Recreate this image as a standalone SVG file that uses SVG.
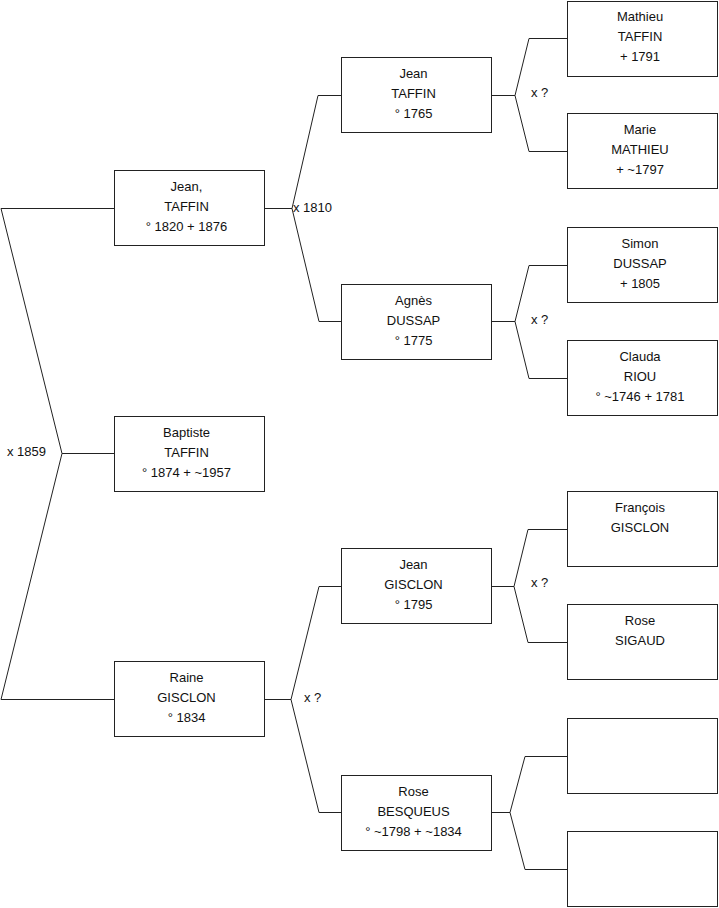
<svg xmlns="http://www.w3.org/2000/svg" width="719" height="908" viewBox="0 0 719 908">
<style>
.box{fill:#fff;stroke:#222;stroke-width:1}
.t{font-family:"Liberation Sans",Arial,sans-serif;font-size:13px;fill:#111;text-anchor:middle}
.l{font-family:"Liberation Sans",Arial,sans-serif;font-size:13px;fill:#111}
.c{fill:none;stroke:#222;stroke-width:1}
</style>
<rect width="719" height="908" fill="#fff"/>
<g id="connectors">
<polyline class="c" points="114,208.5 1,208.5 62,453.5 1,699.5 114,699.5"/>
<line class="c" x1="62" y1="453.5" x2="114" y2="453.5"/>
<text class="l" x="7" y="456">x 1859</text>
<polyline class="c" points="341,95.5 318,95.5 292,208.5 319,321.5 341,321.5"/>
<line class="c" x1="265" y1="208.5" x2="292" y2="208.5"/>
<text class="l" x="293" y="212">x 1810</text>
<polyline class="c" points="341,586.5 319,586.5 291,699.5 319,812.5 341,812.5"/>
<line class="c" x1="265" y1="699.5" x2="291" y2="699.5"/>
<text class="l" x="304" y="702">x ?</text>
<polyline class="c" points="567,38.5 529,38.5 515,95.5 529,151.5 567,151.5"/>
<line class="c" x1="492" y1="95.5" x2="515" y2="95.5"/>
<text class="l" x="531" y="97">x ?</text>
<polyline class="c" points="567,265.5 529,265.5 515,321.5 529,378.5 567,378.5"/>
<line class="c" x1="492" y1="321.5" x2="515" y2="321.5"/>
<text class="l" x="531" y="324">x ?</text>
<polyline class="c" points="567,529.5 528,529.5 514,586.5 528,642.5 567,642.5"/>
<line class="c" x1="492" y1="586.5" x2="514" y2="586.5"/>
<text class="l" x="531" y="587">x ?</text>
<polyline class="c" points="567,756.5 525,756.5 510,812.5 525,869.5 567,869.5"/>
<line class="c" x1="492" y1="812.5" x2="510" y2="812.5"/>
</g>
<g id="n_jean_taffin_1820">
<rect class="box" x="114.5" y="170.5" width="150" height="75"/>
<text class="t" x="186.5" y="191">Jean,</text>
<text class="t" x="186.5" y="211">TAFFIN</text>
<text class="t" x="186.5" y="231">° 1820 + 1876</text>
</g>
<g id="n_baptiste_taffin">
<rect class="box" x="114.5" y="416.5" width="150" height="75"/>
<text class="t" x="186.5" y="437">Baptiste</text>
<text class="t" x="186.5" y="457">TAFFIN</text>
<text class="t" x="186.5" y="477">° 1874 + ~1957</text>
</g>
<g id="n_raine_gisclon">
<rect class="box" x="114.5" y="661.5" width="150" height="75"/>
<text class="t" x="186.5" y="682">Raine</text>
<text class="t" x="186.5" y="702">GISCLON</text>
<text class="t" x="186.5" y="722">° 1834</text>
</g>
<g id="n_jean_taffin_1765">
<rect class="box" x="341.5" y="57.5" width="150" height="75"/>
<text class="t" x="413.5" y="78">Jean</text>
<text class="t" x="413.5" y="98">TAFFIN</text>
<text class="t" x="413.5" y="118">° 1765</text>
</g>
<g id="n_agnes_dussap">
<rect class="box" x="341.5" y="284.5" width="150" height="75"/>
<text class="t" x="413.5" y="305">Agnès</text>
<text class="t" x="413.5" y="325">DUSSAP</text>
<text class="t" x="413.5" y="345">° 1775</text>
</g>
<g id="n_jean_gisclon">
<rect class="box" x="341.5" y="548.5" width="150" height="75"/>
<text class="t" x="413.5" y="569">Jean</text>
<text class="t" x="413.5" y="589">GISCLON</text>
<text class="t" x="413.5" y="609">° 1795</text>
</g>
<g id="n_rose_besqueus">
<rect class="box" x="341.5" y="775.5" width="150" height="75"/>
<text class="t" x="413.5" y="796">Rose</text>
<text class="t" x="413.5" y="816">BESQUEUS</text>
<text class="t" x="413.5" y="836">° ~1798 + ~1834</text>
</g>
<g id="n_mathieu_taffin">
<rect class="box" x="567.5" y="1.5" width="150" height="75"/>
<text class="t" x="640" y="21">Mathieu</text>
<text class="t" x="640" y="41">TAFFIN</text>
<text class="t" x="640" y="61">+ 1791</text>
</g>
<g id="n_marie_mathieu">
<rect class="box" x="567.5" y="113.5" width="150" height="75"/>
<text class="t" x="640" y="134">Marie</text>
<text class="t" x="640" y="154">MATHIEU</text>
<text class="t" x="640" y="174">+ ~1797</text>
</g>
<g id="n_simon_dussap">
<rect class="box" x="567.5" y="227.5" width="150" height="75"/>
<text class="t" x="640" y="248">Simon</text>
<text class="t" x="640" y="268">DUSSAP</text>
<text class="t" x="640" y="288">+ 1805</text>
</g>
<g id="n_claude_riou">
<rect class="box" x="567.5" y="340.5" width="150" height="75"/>
<text class="t" x="640" y="361">Clauda</text>
<text class="t" x="640" y="381">RIOU</text>
<text class="t" x="640" y="401">° ~1746 + 1781</text>
</g>
<g id="n_francois_gisclon">
<rect class="box" x="567.5" y="491.5" width="150" height="75"/>
<text class="t" x="640" y="512">François</text>
<text class="t" x="640" y="532">GISCLON</text>
</g>
<g id="n_rose_sigaud">
<rect class="box" x="567.5" y="604.5" width="150" height="75"/>
<text class="t" x="640" y="625">Rose</text>
<text class="t" x="640" y="645">SIGAUD</text>
</g>
<g id="n_empty_1">
<rect class="box" x="567.5" y="718.5" width="150" height="75"/>
</g>
<g id="n_empty_2">
<rect class="box" x="567.5" y="831.5" width="150" height="75"/>
</g>
</svg>
